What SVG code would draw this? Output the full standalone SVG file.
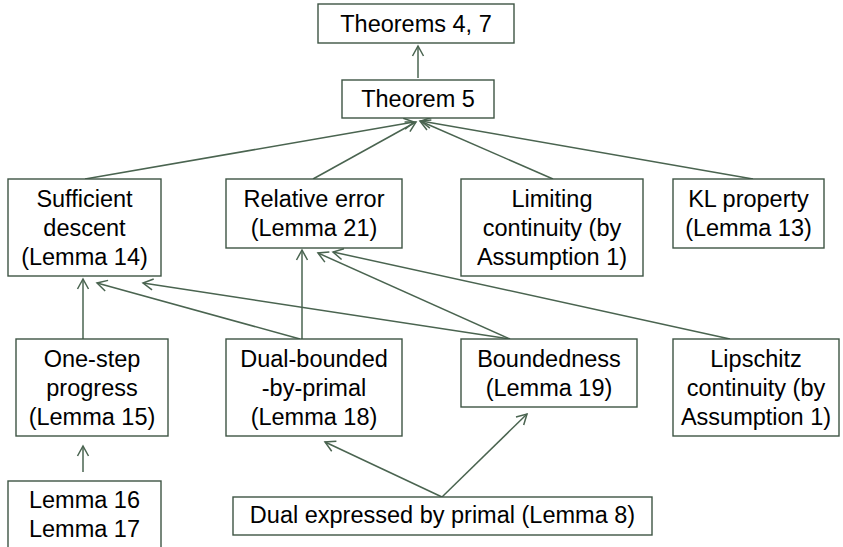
<svg xmlns="http://www.w3.org/2000/svg" width="843" height="547" viewBox="0 0 843 547">
<style>
.box rect{fill:#fff;stroke:#3e5444;stroke-width:1.4}
.box text{font-family:"Liberation Sans",Arial,sans-serif;font-size:23.5px;fill:#000;text-anchor:middle}
.edges line{stroke:#4a6450;stroke-width:1.5;fill:none;marker-end:url(#arr)}
</style>
<defs>
<marker id="arr" markerUnits="userSpaceOnUse" markerWidth="14" markerHeight="14" refX="11" refY="7" orient="auto">
<path d="M1,1.5 L11,7 L1,12.5" fill="none" stroke="#4a6450" stroke-width="1.5"/>
</marker>
</defs>
<rect width="843" height="547" fill="#fff"/>
<g class="edges" id="connectors">
<line x1="418" y1="78" x2="418" y2="46"/>
<line x1="85" y1="179" x2="414" y2="122"/>
<line x1="313" y1="179" x2="416" y2="122"/>
<line x1="553" y1="179" x2="420" y2="121"/>
<line x1="753" y1="179" x2="421" y2="121"/>
<line x1="83" y1="339" x2="83" y2="279"/>
<line x1="300" y1="339" x2="97" y2="283"/>
<line x1="510" y1="339" x2="143" y2="283"/>
<line x1="302" y1="339" x2="302" y2="250"/>
<line x1="510" y1="339" x2="318" y2="253"/>
<line x1="730" y1="339" x2="333" y2="252"/>
<line x1="83" y1="472" x2="83" y2="446"/>
<line x1="442" y1="497" x2="325" y2="442"/>
<line x1="442" y1="497" x2="527" y2="414"/>
</g>
<g class="box" id="theorems47"><rect x="318" y="4" width="196" height="39"/><text x="416" y="32">Theorems 4, 7</text></g>
<g class="box" id="theorem5"><rect x="342" y="80" width="152" height="38"/><text x="418" y="107">Theorem 5</text></g>
<g class="box" id="sufficient"><rect x="8" y="179" width="153" height="97"/><text x="84.5" y="207">Sufficient</text><text x="84.5" y="236">descent</text><text x="84.5" y="265">(Lemma 14)</text></g>
<g class="box" id="relative"><rect x="226" y="179" width="176" height="69"/><text x="314" y="207">Relative error</text><text x="314" y="236">(Lemma 21)</text></g>
<g class="box" id="limiting"><rect x="461" y="179" width="182" height="97"/><text x="552" y="207">Limiting</text><text x="552" y="236">continuity (by</text><text x="552" y="265">Assumption 1)</text></g>
<g class="box" id="kl"><rect x="673" y="179" width="151" height="69"/><text x="748.5" y="207">KL property</text><text x="748.5" y="236">(Lemma 13)</text></g>
<g class="box" id="onestep"><rect x="16" y="339" width="152" height="97"/><text x="92" y="367">One-step</text><text x="92" y="396">progress</text><text x="92" y="425">(Lemma 15)</text></g>
<g class="box" id="dualbounded"><rect x="226" y="339" width="176" height="97"/><text x="314" y="367">Dual-bounded</text><text x="314" y="396">-by-primal</text><text x="314" y="425">(Lemma 18)</text></g>
<g class="box" id="boundedness"><rect x="461" y="339" width="176" height="68"/><text x="549" y="367">Boundedness</text><text x="549" y="396">(Lemma 19)</text></g>
<g class="box" id="lipschitz"><rect x="673" y="339" width="166" height="97"/><text x="756" y="367">Lipschitz</text><text x="756" y="396">continuity (by</text><text x="756" y="425">Assumption 1)</text></g>
<g class="box" id="lemma1617"><rect x="8" y="481" width="153" height="80"/><text x="84.5" y="508">Lemma 16</text><text x="84.5" y="537">Lemma 17</text></g>
<g class="box" id="dualexpressed"><rect x="233" y="497" width="419" height="38"/><text x="442.5" y="523">Dual expressed by primal (Lemma 8)</text></g>
</svg>
